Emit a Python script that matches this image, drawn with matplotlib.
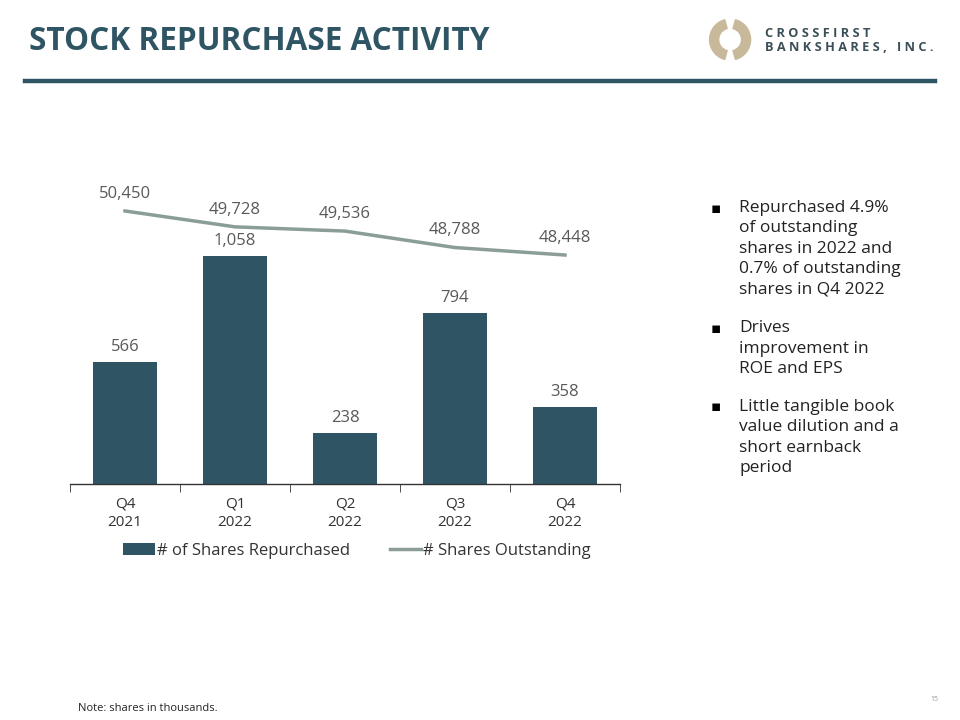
import matplotlib.pyplot as plt
from matplotlib.patches import Wedge
import numpy as np

plt.rcParams['font.family'] = ['Open Sans', 'DejaVu Sans']

quarters = ["Q4\n2021", "Q1\n2022", "Q2\n2022", "Q3\n2022", "Q4\n2022"]
repurchased = [566, 1058, 238, 794, 358]
outstanding = [50450, 49728, 49536, 48788, 48448]

bullets = [
    "Repurchased 4.9%\nof outstanding\nshares in 2022 and\n0.7% of outstanding\nshares in Q4 2022",
    "Drives\nimprovement in\nROE and EPS",
    "Little tangible book\nvalue dilution and a\nshort earnback\nperiod",
]

navy = "#2f5565"
sage = "#8a9e96"
gray = "#595959"

fig = plt.figure(figsize=(9.6, 7.2), dpi=100)
fig.patch.set_facecolor("white")

# header
fig.text(0.030, 0.942, "STOCK REPURCHASE ACTIVITY", fontsize=22.7, fontweight="bold",
         color=navy, va="center", ha="left")
fig.add_artist(plt.Line2D([0.026, 0.974], [0.887, 0.887], color=navy, lw=3.2))

# logo
ax_logo = fig.add_axes([0.738, 0.915, 0.045, 0.06])
ax_logo.set_xlim(-1, 1)
ax_logo.set_ylim(-1, 1)
ax_logo.set_aspect("equal")
ax_logo.axis("off")
ax_logo.add_patch(Wedge((0, 0), 0.95, 105, 255, width=0.42, color="#c8b99a"))
ax_logo.add_patch(Wedge((0, 0), 0.95, -75, 75, width=0.42, color="#c8b99a"))
fig.text(0.797, 0.944, "C R O S S F I R S T\nB A N K S H A R E S ,   I N C .", fontsize=9.2,
         fontweight="bold", color="#3b4f58", va="center", ha="left", linespacing=1.05)

# chart
ax = fig.add_axes([0.0729, 0.3278, 0.5729, 0.45])
x = np.arange(len(quarters))
ax.bar(x, repurchased, width=0.58, color=navy, label="# of Shares Repurchased", zorder=2)
for xi, v in zip(x, repurchased):
    ax.text(xi, v + 32, f"{v:,}", ha="center", va="bottom", fontsize=12, color=gray)
ax.set_xlim(-0.5, len(quarters) - 0.5)
ax.set_ylim(0, 1503)
ax.set_yticks([])
for s in ["top", "right", "left"]:
    ax.spines[s].set_visible(False)
ax.spines["bottom"].set_color("#333333")
ax.spines["bottom"].set_linewidth(1)
ax.set_xticks(x)
ax.set_xticklabels(quarters, fontsize=11, color="#333333", linespacing=1.3)
ax.tick_params(axis="x", length=0, pad=9)
ax.set_xticks(np.arange(-0.5, len(quarters)), minor=True)
ax.tick_params(axis="x", which="minor", length=6, color="#333333", direction="out")

ax2 = ax.twinx()
ax2.plot(x, outstanding, color=sage, lw=2.5, label="# Shares Outstanding")
for xi, v in zip(x, outstanding):
    ax2.text(xi, v + 420, f"{v:,}", ha="center", va="bottom", fontsize=12, color=gray)
ax2.set_ylim(38041, 52768)
ax2.set_yticks([])
for s in ax2.spines.values():
    s.set_visible(False)

h1, l1 = ax.get_legend_handles_labels()
h2, l2 = ax2.get_legend_handles_labels()
fig.legend(h1 + h2, l1 + l2, loc="center", bbox_to_anchor=(0.372, 0.235), ncol=2,
           frameon=False, fontsize=12, handlelength=1.9, handletextpad=0.1,
           columnspacing=2.4, labelcolor="#333333")

# bullets
y0 = 0.722
for b in bullets:
    n = b.count("\n") + 1
    fig.text(0.740, y0 - 0.002, "\u25aa", fontsize=11, color="black", va="top", ha="left")
    fig.text(0.770, y0, b, fontsize=12.5, color="#222222", va="top", ha="left",
             linespacing=1.36)
    y0 -= n * 0.0289 + 0.0225

fig.text(0.081, 0.016, "Note: shares in thousands.", fontsize=8, color="#222222",
         va="center", ha="left")
fig.text(0.978, 0.028, "15", fontsize=5, color="#999999", va="center", ha="right")

plt.savefig("out.png", dpi=100, facecolor="white")
